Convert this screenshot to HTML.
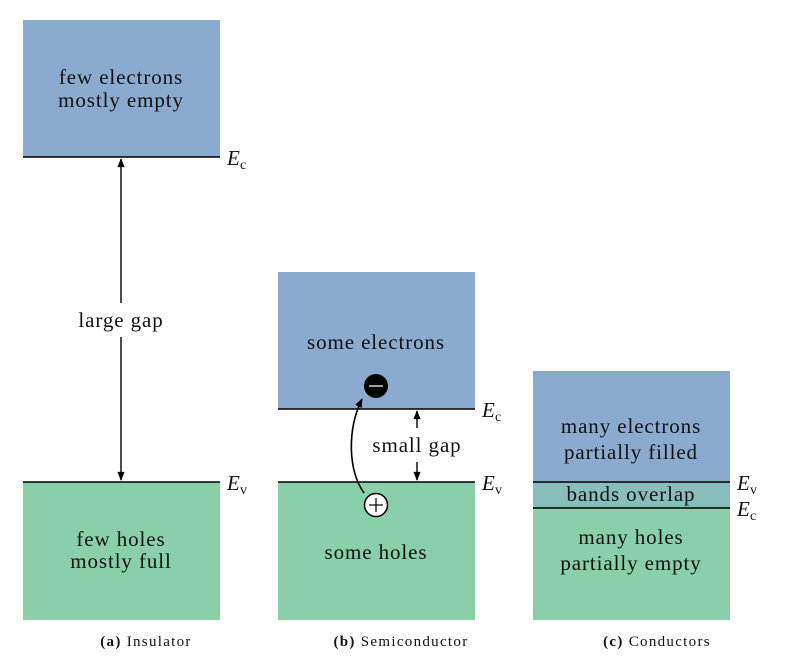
<!DOCTYPE html>
<html><head><meta charset="utf-8"><style>
html,body{margin:0;padding:0;background:#fff;}
svg{display:block;}
text{font-family:"Liberation Serif",serif;fill:#111;}
.t{font-size:21px;letter-spacing:0.9px;}
.c{font-size:15px;letter-spacing:1.3px;}
</style></head><body>
<svg width="797" height="662" viewBox="0 0 797 662" xmlns="http://www.w3.org/2000/svg">
<defs>
<marker id="ah" viewBox="0 0 10 10" refX="9" refY="5" markerWidth="12" markerHeight="9" markerUnits="userSpaceOnUse" orient="auto-start-reverse">
<path d="M0,1 L10,5 L0,9 Z" fill="#000"/></marker>
</defs>
<!-- Insulator -->
<rect x="23" y="20" width="197" height="137" fill="#8aabcf"/>
<rect x="23" y="482" width="197" height="138" fill="#89cfa9"/>
<line x1="23" y1="157" x2="220" y2="157" stroke="#000" stroke-width="1.6"/>
<line x1="23" y1="482" x2="220" y2="482" stroke="#000" stroke-width="1.6"/>
<text class="t" x="121" y="84" text-anchor="middle">few electrons</text>
<text class="t" x="121" y="107" text-anchor="middle">mostly empty</text>
<text class="t" x="121" y="546" text-anchor="middle">few holes</text>
<text class="t" x="121" y="568" text-anchor="middle">mostly full</text>
<line x1="121" y1="303" x2="121" y2="159" stroke="#000" stroke-width="1.4" marker-end="url(#ah)"/>
<line x1="121" y1="337" x2="121" y2="480" stroke="#000" stroke-width="1.4" marker-end="url(#ah)"/>
<text class="t" x="121" y="327" text-anchor="middle">large gap</text>
<text x="227" y="165" font-size="21" font-style="italic">E</text><text x="240" y="169" font-size="14">c</text>
<text x="227" y="490" font-size="21" font-style="italic">E</text><text x="240" y="494" font-size="14">v</text>
<!-- Semiconductor -->
<rect x="278" y="272" width="197" height="137" fill="#8aabcf"/>
<rect x="278" y="482" width="197" height="138" fill="#89cfa9"/>
<line x1="278" y1="409" x2="475" y2="409" stroke="#000" stroke-width="1.6"/>
<line x1="278" y1="482" x2="475" y2="482" stroke="#000" stroke-width="1.6"/>
<text class="t" x="376" y="349" text-anchor="middle">some electrons</text>
<text class="t" x="376" y="559" text-anchor="middle">some holes</text>
<line x1="417" y1="428" x2="417" y2="411" stroke="#000" stroke-width="1.4" marker-end="url(#ah)"/>
<line x1="417" y1="462" x2="417" y2="480" stroke="#000" stroke-width="1.4" marker-end="url(#ah)"/>
<text class="t" x="417" y="452" text-anchor="middle">small gap</text>
<path d="M364,493 C348,470 347,430 362,399" fill="none" stroke="#000" stroke-width="1.6" marker-end="url(#ah)"/>
<circle cx="376" cy="386" r="12" fill="#000"/>
<line x1="369" y1="386" x2="383" y2="386" stroke="#fff" stroke-width="1.2"/>
<circle cx="376" cy="505" r="11.5" fill="#fff" stroke="#000" stroke-width="1.5"/>
<line x1="369" y1="505" x2="383" y2="505" stroke="#000" stroke-width="1.2"/>
<line x1="376" y1="498" x2="376" y2="512" stroke="#000" stroke-width="1.2"/>
<text x="482" y="417" font-size="21" font-style="italic">E</text><text x="495" y="421" font-size="14">c</text>
<text x="482" y="490" font-size="21" font-style="italic">E</text><text x="495" y="494" font-size="14">v</text>
<!-- Conductors -->
<rect x="533" y="371" width="197" height="111" fill="#8aabcf"/>
<rect x="533" y="482" width="197" height="26" fill="#88bdbb"/>
<rect x="533" y="508" width="197" height="112" fill="#89cfa9"/>
<line x1="533" y1="482" x2="730" y2="482" stroke="#000" stroke-width="1.6"/>
<line x1="533" y1="508" x2="730" y2="508" stroke="#000" stroke-width="1.6"/>
<text class="t" x="631" y="433" text-anchor="middle">many electrons</text>
<text class="t" x="631" y="459" text-anchor="middle">partially filled</text>
<text class="t" x="631" y="501" text-anchor="middle">bands overlap</text>
<text class="t" x="631" y="544" text-anchor="middle">many holes</text>
<text class="t" x="631" y="570" text-anchor="middle">partially empty</text>
<text x="737" y="490" font-size="21" font-style="italic">E</text><text x="750" y="494" font-size="14">v</text>
<text x="737" y="516" font-size="21" font-style="italic">E</text><text x="750" y="520" font-size="14">c</text>
<!-- Captions -->
<text class="c" x="146" y="646" text-anchor="middle"><tspan font-weight="bold">(a)</tspan> Insulator</text>
<text class="c" x="401" y="646" text-anchor="middle"><tspan font-weight="bold">(b)</tspan> Semiconductor</text>
<text class="c" x="657" y="646" text-anchor="middle"><tspan font-weight="bold">(c)</tspan> Conductors</text>
</svg>
</body></html>
